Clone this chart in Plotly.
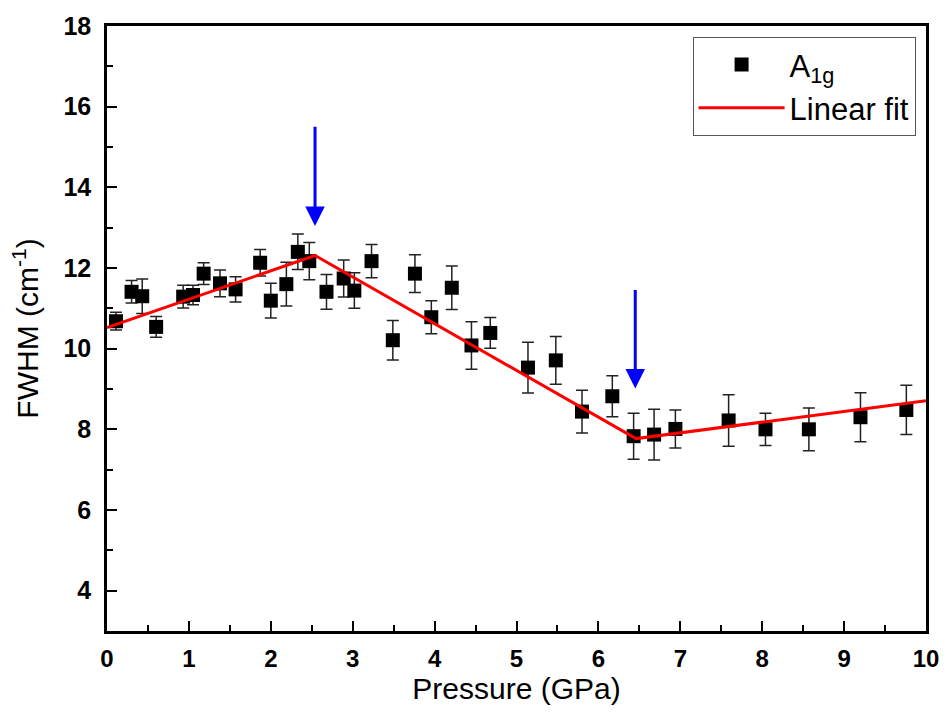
import plotly.graph_objects as go

pressure = [0.11, 0.30, 0.43, 0.60, 0.93, 1.05, 1.18, 1.38, 1.57, 1.87, 2.00, 2.19, 2.33, 2.47,
            2.68, 2.89, 3.02, 3.23, 3.49, 3.76, 3.96, 4.21, 4.45, 4.68, 5.14, 5.48, 5.80, 6.17,
            6.43, 6.68, 6.94, 7.59, 8.04, 8.57, 9.20, 9.76]
fwhm = [10.68, 11.41, 11.30, 10.54, 11.29, 11.33, 11.86, 11.62, 11.47, 12.13, 11.19, 11.60, 12.40, 12.17,
        11.41, 11.74, 11.44, 12.17, 10.21, 11.86, 10.78, 11.51, 10.08, 10.39, 9.53, 9.71, 8.44, 8.82,
        7.83, 7.87, 8.01, 8.22, 8.00, 8.00, 8.30, 8.48]
fwhm_err = [0.22, 0.28, 0.43, 0.26, 0.28, 0.24, 0.27, 0.33, 0.31, 0.33, 0.43, 0.54, 0.44, 0.46,
            0.43, 0.46, 0.44, 0.41, 0.49, 0.47, 0.41, 0.54, 0.59, 0.38, 0.63, 0.59, 0.53, 0.51,
            0.57, 0.63, 0.47, 0.64, 0.40, 0.53, 0.61, 0.61]

fit_x = [0.0, 2.54, 6.46, 10.0]
fit_y = [10.52, 12.31, 7.77, 8.71]

arrow_x = [2.54, 6.45]
arrow_tail_y = [15.54, 11.49]
arrow_tip_y = [13.04, 9.01]

fig = go.Figure()
fig.add_trace(go.Scatter(
    x=pressure, y=fwhm, mode="markers", name="A<sub>1g</sub>",
    marker=dict(symbol="square", size=14, color="black"),
    error_y=dict(type="data", array=fwhm_err, visible=True, color="#222222", thickness=1.5, width=6),
))
fig.add_trace(go.Scatter(
    x=fit_x, y=fit_y, mode="lines", name="Linear fit",
    line=dict(color="#ff0000", width=3),
))

for xa, yt, yh in zip(arrow_x, arrow_tail_y, arrow_tip_y):
    fig.add_annotation(
        x=xa, y=yh, ax=xa, ay=yt, xref="x", yref="y", axref="x", ayref="y",
        text="", showarrow=True, arrowhead=2, arrowsize=1.3, arrowwidth=3, arrowcolor="#0000ff",
    )

axis_common = dict(
    showline=True, linewidth=2.5, linecolor="black", mirror=True,
    ticks="inside", tickwidth=2, tickcolor="black", showgrid=False, zeroline=False,
)

fig.update_layout(
    width=951, height=713,
    margin=dict(l=107, r=19, t=22, b=82),
    paper_bgcolor="white", plot_bgcolor="white",
    font=dict(family="Liberation Sans, Arial", color="black"),
    xaxis=dict(range=[0, 10], dtick=1, ticklen=10, ticklabelstandoff=4,
               tickfont=dict(family="Liberation Sans, Arial", size=24, color="black", weight="bold"),
               minor=dict(ticks="inside", dtick=0.5, ticklen=6, tickwidth=2, tickcolor="black"),
               title=dict(text="Pressure (GPa)", font=dict(size=30), standoff=4),
               **axis_common),
    yaxis=dict(range=[3, 18], tickvals=[4, 6, 8, 10, 12, 14, 16, 18], ticklen=10, ticklabelstandoff=8,
               tickfont=dict(family="Liberation Sans, Arial", size=25, color="black", weight="bold"),
               minor=dict(ticks="inside", tickvals=[5, 7, 9, 11, 13, 15, 17], ticklen=6, tickwidth=2, tickcolor="black"),
               title=dict(text="FWHM (cm<sup>-1</sup>)", font=dict(size=30), standoff=16),
               **axis_common),
    legend=dict(x=0.715, y=0.982, xanchor="left", yanchor="top",
                bordercolor="#555555", borderwidth=1, bgcolor="white",
                font=dict(size=31), itemwidth=86),
    showlegend=True,
)

fig.write_html("out.html")
